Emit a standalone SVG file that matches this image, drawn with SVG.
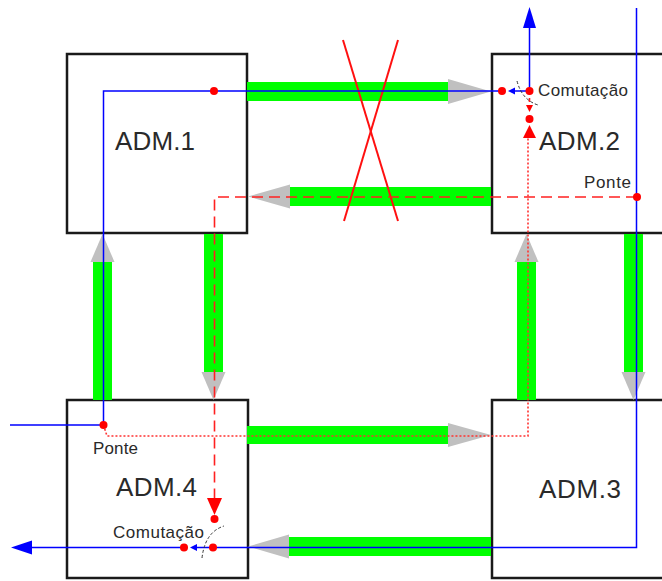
<svg xmlns="http://www.w3.org/2000/svg" width="662" height="581" viewBox="0 0 662 581">
<style>
.box{fill:#fff;stroke:#1a1a1a;stroke-width:2.5}
.lbl{font-family:"Liberation Sans",Arial,sans-serif;font-size:26px;fill:#2a2a2a}
.sm{font-family:"Liberation Sans",Arial,sans-serif;font-size:17px;fill:#2a2a2a}
.bar{fill:#00ff00}
.head{fill:#c0c0c0}
.blue{fill:none;stroke:#0000ff;stroke-width:1.5}
.bluef{fill:#0000ff}
.rdash{fill:none;stroke:#ff2020;stroke-width:1.6;stroke-dasharray:11,6}
.rdot{fill:none;stroke:#ff3030;stroke-width:1.6;stroke-dasharray:2,2}
.redf{fill:#ff0000}
.sw{fill:none;stroke:#333;stroke-width:1;stroke-dasharray:3,2}
.x{stroke:#ff1010;stroke-width:2;fill:none}
</style>
<rect width="662" height="581" fill="#fff"/>
<g id="adm1"><rect class="box" x="67" y="54" width="180" height="179"/><text class="lbl" x="115" y="150" textLength="80">ADM.1</text></g>
<g id="adm2"><rect class="box" x="492" y="54" width="200" height="179"/><text class="lbl" x="539" y="150" textLength="81">ADM.2</text><text class="sm" x="538" y="96" textLength="90">Comutação</text><text class="sm" x="584" y="188" textLength="47">Ponte</text></g>
<g id="adm4"><rect class="box" x="67" y="400" width="181" height="178"/><text class="lbl" x="116" y="496" textLength="81">ADM.4</text><text class="sm" x="93" y="454" textLength="45">Ponte</text><text class="sm" x="113" y="538" textLength="91">Comutação</text></g>
<g id="adm3"><rect class="box" x="492" y="400" width="200" height="178"/><text class="lbl" x="539" y="498" textLength="82">ADM.3</text></g>
<g id="connectors">
<g id="fibers">
<rect class="bar" x="247" y="82" width="201" height="19"/><polygon class="head" points="448,79 491,91.5 448,104"/>
<rect class="bar" x="290" y="187" width="201" height="19"/><polygon class="head" points="290,184.5 248,196.5 290,208.5"/>
<rect class="bar" x="93" y="262" width="19" height="138"/><polygon class="head" points="90.5,262 102.5,234 114.5,262"/>
<rect class="bar" x="204" y="234" width="19" height="138"/><polygon class="head" points="201.5,372 213.5,400 225.5,372"/>
<rect class="bar" x="517" y="262" width="19" height="138"/><polygon class="head" points="514.5,262 526.5,234 538.5,262"/>
<rect class="bar" x="624" y="234" width="19" height="138"/><polygon class="head" points="621.5,372 633.5,400 645.5,372"/>
<rect class="bar" x="247" y="426" width="201" height="18"/><polygon class="head" points="448,423 491,435 448,447"/>
<rect class="bar" x="289" y="537" width="202" height="19"/><polygon class="head" points="289,534.5 248,546.5 289,558.5"/>
</g>
<g id="cut"><line class="x" x1="343" y1="40" x2="398" y2="221"/><line class="x" x1="398" y1="40" x2="344" y2="221"/></g>
<g id="blue">
<path class="blue" d="M10,425 H103.5 V91 H502"/>
<path class="blue" d="M514,91 H529.5 V26"/>
<polygon class="bluef" points="508,91 515,87.5 515,94.5"/>
<polygon class="bluef" points="523,28 529.5,7 536,28"/>
<path class="blue" d="M636.5,8 V547.5 H197"/>
<polygon class="bluef" points="190,547.5 197,544 197,551"/>
<path class="blue" d="M184,547.5 H30"/>
<polygon class="bluef" points="32,540.5 11,547.5 32,554.5"/>
</g>
<g id="red">
<path class="rdash" d="M637,197 H214.5 V498"/>
<polygon class="redf" points="207,498 222,498 214.5,515"/>
<path class="rdot" d="M103.5,425 L107,436 H528 V138"/>
<polygon class="redf" points="523,138 536,138 529.5,125"/>
<path class="rdash" d="M529.5,91 V106" style="stroke-dasharray:4,3"/>
<polygon class="redf" points="526,105 533,105 529.5,112"/>
<circle class="redf" cx="103.5" cy="425" r="4"/>
<circle class="redf" cx="214" cy="91" r="4"/>
<circle class="redf" cx="502" cy="91" r="4"/>
<circle class="redf" cx="529.5" cy="91" r="4"/>
<circle class="redf" cx="529.5" cy="119" r="4"/>
<circle class="redf" cx="637" cy="197" r="4"/>
<circle class="redf" cx="184" cy="547.5" r="4"/>
<circle class="redf" cx="213" cy="547.5" r="4"/>
<circle class="redf" cx="214.5" cy="519" r="4"/>
</g>
<g id="switches">
<path class="sw" d="M517,81 Q522,100 538,105"/>
<path class="sw" d="M202,558 Q205,532 224,526"/>
</g>
</g>
</svg>
